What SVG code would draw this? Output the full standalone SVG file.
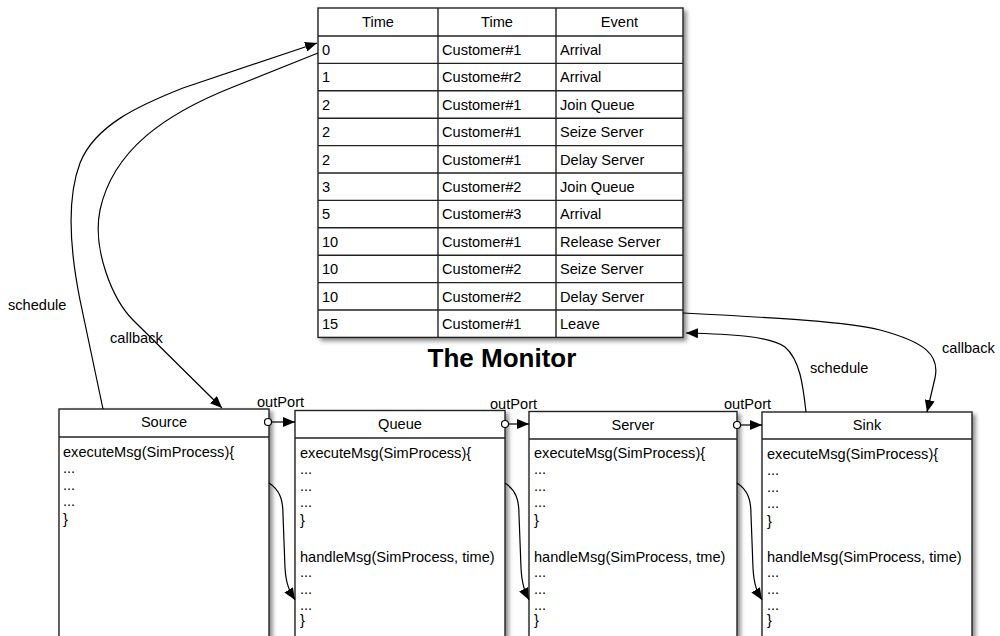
<svg xmlns="http://www.w3.org/2000/svg" width="1000" height="636" viewBox="0 0 1000 636">
<style>
text{font-family:"Liberation Sans",Arial,sans-serif;font-size:14.6px;fill:#000}
.c{text-anchor:middle}
.b{fill:#fff;stroke:#222;stroke-width:1.4}
.l{stroke:#222;stroke-width:1.4;fill:none}
.w{fill:none;stroke:#000;stroke-width:1.2}
.t{font-size:26px;font-weight:bold}
</style>
<defs>
<filter id="sh" x="-10%" y="-10%" width="130%" height="130%">
<feDropShadow dx="3" dy="3" stdDeviation="2" flood-color="#000" flood-opacity="0.45"/>
</filter>
<marker id="ah" viewBox="0 0 12 10" refX="12" refY="5" markerWidth="12" markerHeight="10" markerUnits="userSpaceOnUse" orient="auto">
<path d="M0,0 L12,5 L0,10 Z" fill="#000"/>
</marker>
</defs>

<g id="monitor">
<rect class="b" x="318" y="8" width="365" height="329.4" filter="url(#sh)"/>
<g class="l">
<line x1="438" y1="8" x2="438" y2="337.4"/>
<line x1="556" y1="8" x2="556" y2="337.4"/>
<line x1="318" y1="36" x2="683" y2="36"/>
<line x1="318" y1="63.4" x2="683" y2="63.4"/>
<line x1="318" y1="90.8" x2="683" y2="90.8"/>
<line x1="318" y1="118.2" x2="683" y2="118.2"/>
<line x1="318" y1="145.6" x2="683" y2="145.6"/>
<line x1="318" y1="173" x2="683" y2="173"/>
<line x1="318" y1="200.4" x2="683" y2="200.4"/>
<line x1="318" y1="227.8" x2="683" y2="227.8"/>
<line x1="318" y1="255.2" x2="683" y2="255.2"/>
<line x1="318" y1="282.6" x2="683" y2="282.6"/>
<line x1="318" y1="310" x2="683" y2="310"/>
</g>
<text class="c" x="378" y="27">Time</text>
<text class="c" x="497" y="27">Time</text>
<text class="c" x="619.5" y="27">Event</text>
<g>
<text x="322" y="55">0</text><text x="442" y="55">Customer#1</text><text x="560" y="55">Arrival</text>
<text x="322" y="82.4">1</text><text x="442" y="82.4">Custome#r2</text><text x="560" y="82.4">Arrival</text>
<text x="322" y="109.8">2</text><text x="442" y="109.8">Customer#1</text><text x="560" y="109.8">Join Queue</text>
<text x="322" y="137.2">2</text><text x="442" y="137.2">Customer#1</text><text x="560" y="137.2">Seize Server</text>
<text x="322" y="164.6">2</text><text x="442" y="164.6">Customer#1</text><text x="560" y="164.6">Delay Server</text>
<text x="322" y="192">3</text><text x="442" y="192">Customer#2</text><text x="560" y="192">Join Queue</text>
<text x="322" y="219.4">5</text><text x="442" y="219.4">Customer#3</text><text x="560" y="219.4">Arrival</text>
<text x="322" y="246.8">10</text><text x="442" y="246.8">Customer#1</text><text x="560" y="246.8">Release Server</text>
<text x="322" y="274.2">10</text><text x="442" y="274.2">Customer#2</text><text x="560" y="274.2">Seize Server</text>
<text x="322" y="301.6">10</text><text x="442" y="301.6">Customer#2</text><text x="560" y="301.6">Delay Server</text>
<text x="322" y="329">15</text><text x="442" y="329">Customer#1</text><text x="560" y="329">Leave</text>
</g>
<text class="c t" x="502" y="367">The Monitor</text>
</g>

<g id="source">
<rect class="b" x="59" y="409" width="210" height="250" filter="url(#sh)"/>
<line class="l" x1="59" y1="437" x2="269" y2="437"/>
<text class="c" x="164" y="427">Source</text>
<text x="63" y="457">executeMsg(SimProcess){</text>
<text x="63" y="473">...</text>
<text x="63" y="490">...</text>
<text x="63" y="506">...</text>
<text x="63" y="524">}</text>
</g>

<g id="queue">
<rect class="b" x="295" y="410.5" width="210" height="250" filter="url(#sh)"/>
<line class="l" x1="295" y1="438" x2="505" y2="438"/>
<text class="c" x="400" y="429">Queue</text>
<text x="300" y="458">executeMsg(SimProcess){</text>
<text x="300" y="474">...</text>
<text x="300" y="491">...</text>
<text x="300" y="507">...</text>
<text x="300" y="525">}</text>
<text x="300" y="562">handleMsg(SimProcess, time)</text>
<text x="300" y="577">...</text>
<text x="300" y="594">...</text>
<text x="300" y="610">...</text>
<text x="300" y="625">}</text>
</g>

<g id="server">
<rect class="b" x="529" y="411.5" width="208" height="250" filter="url(#sh)"/>
<line class="l" x1="529" y1="439" x2="737" y2="439"/>
<text class="c" x="633" y="430">Server</text>
<text x="534" y="458">executeMsg(SimProcess){</text>
<text x="534" y="474">...</text>
<text x="534" y="491">...</text>
<text x="534" y="507">...</text>
<text x="534" y="525">}</text>
<text x="534" y="562">handleMsg(SimProcess, tme)</text>
<text x="534" y="577">...</text>
<text x="534" y="594">...</text>
<text x="534" y="610">...</text>
<text x="534" y="625">}</text>
</g>

<g id="sink">
<rect class="b" x="762" y="412" width="210" height="250" filter="url(#sh)"/>
<line class="l" x1="762" y1="439" x2="972" y2="439"/>
<text class="c" x="867" y="430">Sink</text>
<text x="767" y="459">executeMsg(SimProcess){</text>
<text x="767" y="475">...</text>
<text x="767" y="492">...</text>
<text x="767" y="508">...</text>
<text x="767" y="526">}</text>
<text x="767" y="562">handleMsg(SimProcess, time)</text>
<text x="767" y="577">...</text>
<text x="767" y="594">...</text>
<text x="767" y="610">...</text>
<text x="767" y="625">}</text>
</g>

<g id="connectors">
<path class="w" d="M103,409 L80,300 C 68,240 68,195 80,163 C 95,125 140,105 183,88 L317,43" marker-end="url(#ah)"/>
<path class="w" d="M318,53 L233,87 C 165,114 113,150 100,210 C 92,250 113,300 133,320 L222,408" marker-end="url(#ah)"/>
<path class="w" d="M683,313 C 780,318 850,322 880,330 C 925,342 940,355 935,378 L927,412" marker-end="url(#ah)"/>
<path class="w" d="M806,412 C 803,385 800,360 785,347 C 770,336 730,334 686,333" marker-end="url(#ah)"/>

<path class="w" d="M269,483 C 280,490 283,500 283,515 L285,568 C 286,585 290,592 295,600" marker-end="url(#ah)"/>
<path class="w" d="M505,483 C 516,490 519,500 519,515 L521,568 C 522,585 525,592 529,600" marker-end="url(#ah)"/>
<path class="w" d="M737,483 C 748,490 751,500 751,515 L753,568 C 754,585 757,592 762,600" marker-end="url(#ah)"/>

<circle cx="268" cy="422" r="3.5" fill="#fff" stroke="#000" stroke-width="1.2"/>
<line class="w" x1="271.5" y1="422" x2="295" y2="422" marker-end="url(#ah)"/>
<circle cx="505" cy="424" r="3.5" fill="#fff" stroke="#000" stroke-width="1.2"/>
<line class="w" x1="508.5" y1="424" x2="529" y2="424" marker-end="url(#ah)"/>
<circle cx="737" cy="425" r="3.5" fill="#fff" stroke="#000" stroke-width="1.2"/>
<line class="w" x1="740.5" y1="425" x2="762" y2="425" marker-end="url(#ah)"/>

<text x="257" y="407">outPort</text>
<text x="490" y="409">outPort</text>
<text x="724" y="409">outPort</text>
<text x="8" y="310">schedule</text>
<text x="110" y="343">callback</text>
<text x="942" y="353">callback</text>
<text x="810" y="373">schedule</text>
</g>
</svg>
